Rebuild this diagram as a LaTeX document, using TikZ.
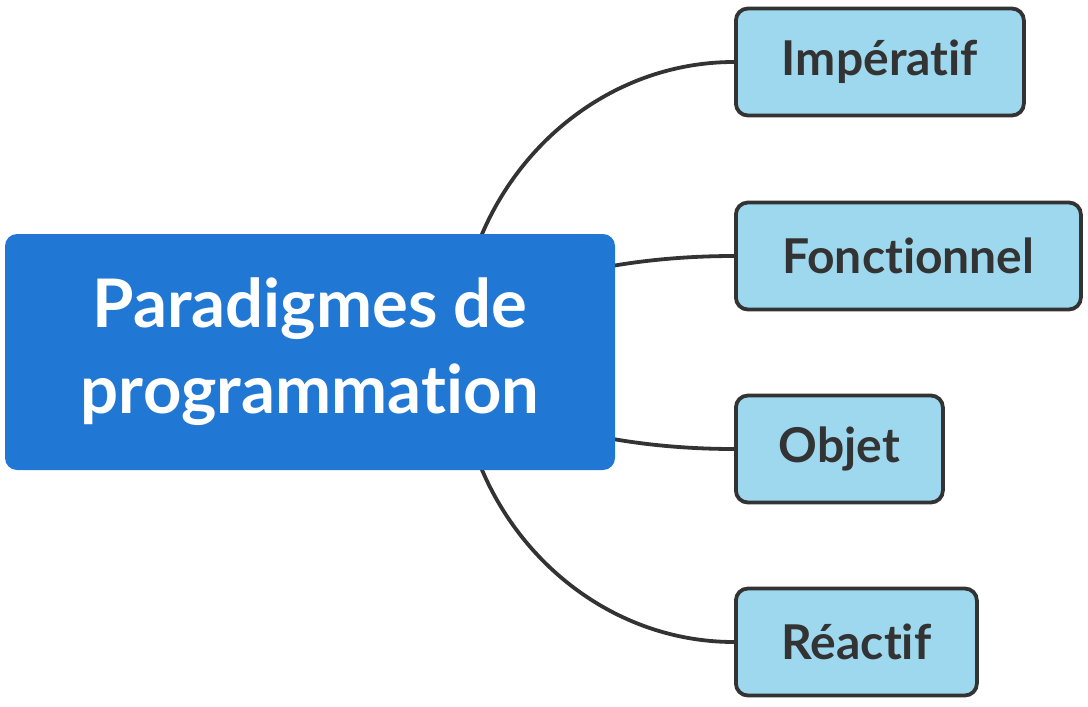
\documentclass[tikz,border=0pt]{standalone}
\usepackage{fontspec}
\setmainfont{Lato}[Ligatures=NoCommon]
\usetikzlibrary{calc,backgrounds}
\definecolor{rootblue}{HTML}{2178D4}
\definecolor{leafblue}{HTML}{9DD8EE}
\definecolor{ink}{HTML}{333333}
\begin{document}
\begin{tikzpicture}[x=1pt,y=-1pt,
  rootbox/.style={fill=rootblue,rounded corners=12pt,minimum width=610pt,minimum height=236pt,
    text=white,align=center,font=\fontsize{67}{86}\selectfont\bfseries,inner sep=0pt},
  leafbox/.style={fill=leafblue,draw=ink,line width=3.8pt,rounded corners=12pt,minimum height=107pt,
    text=ink,font=\fontsize{48}{56}\selectfont\bfseries,inner sep=0pt,anchor=west},
  link/.style={draw=ink,line width=3.8pt}]
\useasboundingbox (0,0) rectangle (1088,707);
\node[rootbox] (root) at (310,352) {Paradigmes de\\programmation};
\coordinate (o) at (458,352);
\node[leafbox,minimum width=288pt] (imp) at (734,62) {Impératif};
\node[leafbox,minimum width=345pt] (fon) at (734,256) {Fonctionnel};
\node[leafbox,minimum width=207pt] (obj) at (734,449) {Objet};
\node[leafbox,minimum width=241pt] (rea) at (734,642) {Réactif};
\begin{scope}[on background layer]
\draw[link] (o) .. controls ($(o)+(0,-160)$) and ($(imp.west)+(-151,0)$) .. (imp.west);
\draw[link] (o) .. controls ($(o)+(0,-53)$) and ($(fon.west)+(-151,0)$) .. (fon.west);
\draw[link] (o) .. controls ($(o)+(0,53)$) and ($(obj.west)+(-151,0)$) .. (obj.west);
\draw[link] (o) .. controls ($(o)+(0,160)$) and ($(rea.west)+(-151,0)$) .. (rea.west);
\end{scope}
\end{tikzpicture}
\end{document}
